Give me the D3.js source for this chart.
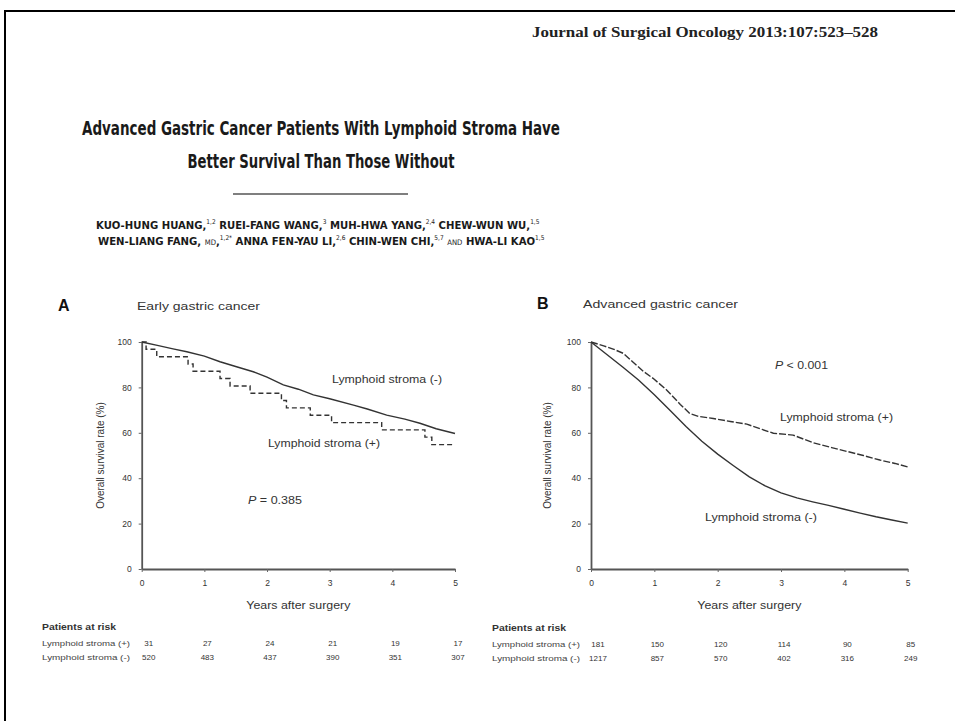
<!DOCTYPE html>
<html><head><meta charset="utf-8">
<script src="https://cdn.jsdelivr.net/npm/d3@7/dist/d3.min.js"></script>
<style>body{margin:0;background:#fff}svg{display:block}</style>
</head><body><svg id="c" width="955" height="721"></svg>
<script>
// ---------- data ----------
const years = [0, 1, 2, 3, 4, 5];
const yTicks = [0, 20, 40, 60, 80, 100];

// Panel A: early gastric cancer
const earlyNegT = [0, 0.25, 0.5, 0.72, 1.0, 1.25, 1.5, 1.78, 2.0, 2.26, 2.5, 2.74, 3.0, 3.38, 3.6, 3.91, 4.2, 4.44, 4.7, 5.0];
const earlyNegV = [100, 98.5, 97.0, 95.7, 93.8, 91.3, 89.2, 86.9, 84.5, 81.1, 79.2, 76.7, 75.0, 72.2, 70.5, 67.8, 66.0, 64.2, 61.8, 59.7];
const earlyPosT = [0, 0.07, 0.24, 0.74, 0.82, 1.25, 1.41, 1.73, 2.23, 2.31, 2.69, 3.03, 3.83, 4.52, 4.63, 5.0];
const earlyPosV = [100, 96.8, 93.5, 90.3, 87.1, 83.9, 80.6, 77.4, 74.2, 71.0, 67.7, 64.5, 61.3, 58.1, 54.8, 54.8];

// Panel B: advanced gastric cancer
const advPosT = [0, 0.2, 0.35, 0.51, 0.67, 0.83, 0.98, 1.19, 1.41, 1.56, 1.7, 1.93, 2.2, 2.46, 2.7, 2.88, 3.19, 3.51, 3.8, 4.04, 4.3, 4.56, 4.8, 5.0];
const advPosV = [100, 98.3, 96.9, 95.0, 91.0, 87.0, 84.0, 79.0, 72.5, 68.5, 67.2, 66.3, 65.0, 63.8, 61.5, 59.8, 59.0, 55.6, 53.5, 51.8, 50.0, 48.0, 46.5, 45.0];
const advNegT = [0, 0.25, 0.5, 0.75, 1.0, 1.25, 1.5, 1.75, 2.0, 2.25, 2.5, 2.75, 3.0, 3.25, 3.5, 3.75, 4.0, 4.25, 4.5, 4.75, 5.0];
const advNegV = [100, 94.5, 89.0, 83.3, 76.8, 69.8, 62.8, 56.3, 50.6, 45.5, 40.6, 36.6, 33.5, 31.3, 29.6, 28.0, 26.3, 24.6, 23.0, 21.6, 20.2];

// Patients at risk
const riskRowLabels = ["Lymphoid stroma (+)", "Lymphoid stroma (-)"];
const earlyRiskPos = [31, 27, 24, 21, 19, 17];
const earlyRiskNeg = [520, 483, 437, 390, 351, 307];
const advRiskPos = [181, 150, 120, 114, 90, 85];
const advRiskNeg = [1217, 857, 570, 402, 316, 249];

// ---------- drawing ----------
const svg = d3.select("#c");
svg.append("rect").attr("width", 955).attr("height", 721).attr("fill", "#fff");

// page frame
svg.append("path").attr("d", "M5,721 V11 H955").attr("fill", "none").attr("stroke", "#000").attr("stroke-width", 2);

const SERIF = "'Liberation Serif','Times New Roman',serif";
const SANS = "'Liberation Sans',Arial,Helvetica,sans-serif";
const NARROW = "'Liberation Sans Narrow','DejaVu Sans Condensed','Liberation Sans',sans-serif";

svg.append("text").attr("x", 532).attr("y", 37)
  .attr("font-family", SERIF).attr("font-weight", "bold").attr("font-size", 14)
  .attr("fill", "#222").attr("textLength", 346).attr("lengthAdjust", "spacingAndGlyphs")
  .text("Journal of Surgical Oncology 2013:107:523\u2013528");

// title
const titleLines = ["Advanced Gastric Cancer Patients With Lymphoid Stroma Have", "Better Survival Than Those Without"];
const titleWidths = [478, 267];
const titleBase = [135, 168];
titleLines.forEach((t, i) => {
  svg.append("text").attr("x", 321).attr("y", titleBase[i]).attr("text-anchor", "middle")
    .attr("font-family", NARROW).attr("font-weight", "bold").attr("font-size", 19).attr("fill", "#1a1a1a")
    .attr("textLength", titleWidths[i]).attr("lengthAdjust", "spacingAndGlyphs").text(t);
});
svg.append("line").attr("x1", 233).attr("x2", 408).attr("y1", 194).attr("y2", 194)
  .attr("stroke", "#555").attr("stroke-width", 1.5);

// authors (superscripts sized in em so the whole line scales with one font size)
const authorLines = [
  [["KUO-HUNG HUANG,", 0], ["1,2", 1], [" RUEI-FANG WANG,", 0], ["3", 1], [" MUH-HWA YANG,", 0], ["2,4", 1], [" CHEW-WUN WU,", 0], ["1,5", 1]],
  [["WEN-LIANG FANG, ", 0], ["MD", 2], [",", 0], ["1,2*", 1], [" ANNA FEN-YAU LI,", 0], ["2,6", 1], [" CHIN-WEN CHI,", 0], ["5,7", 1], [" ", 0], ["AND", 2], [" HWA-LI KAO", 0], ["1,5", 1]]
];
const authorX = [96, 98], authorW = [444, 447], authorBase = [229, 245];
authorLines.forEach((parts, i) => {
  const t = svg.append("text").attr("x", authorX[i]).attr("y", authorBase[i])
    .attr("font-family", NARROW).attr("font-weight", "bold").attr("font-size", 12).attr("fill", "#1a1a1a");
  parts.forEach(([s, k]) => {
    const ts = t.append("tspan").text(s);
    if (k === 1) ts.attr("font-size", "0.58em").attr("font-weight", "normal").attr("baseline-shift", "70%");
    if (k === 2) ts.attr("font-size", "0.68em").attr("font-weight", "normal");
  });
  const w = t.node().getComputedTextLength();
  if (w > 0) t.attr("font-size", 12 * authorW[i] / w);
});

function panel(cfg) {
  const x = d3.scaleLinear().domain([0, 5]).range([cfg.left, cfg.right]);
  const y = d3.scaleLinear().domain([0, 100]).range([cfg.bottom, cfg.top]);
  const g = svg.append("g");

  g.append("text").attr("x", cfg.letterX).attr("y", cfg.letterY).attr("font-family", SANS)
    .attr("font-weight", "bold").attr("font-size", 16).attr("fill", "#111").text(cfg.letter);
  g.append("text").attr("x", cfg.subX).attr("y", cfg.letterY - 1).attr("font-family", SANS)
    .attr("font-size", 10.5).attr("fill", "#333").attr("textLength", cfg.subW)
    .attr("lengthAdjust", "spacingAndGlyphs").text(cfg.subtitle);

  const ya = g.append("g").attr("transform", `translate(${cfg.left},0)`)
    .call(d3.axisLeft(y).tickValues(yTicks).tickFormat(d3.format("d")).tickSize(3).tickPadding(7).tickSizeOuter(0));
  const xa = g.append("g").attr("transform", `translate(0,${cfg.bottom})`)
    .call(d3.axisBottom(x).tickValues(years).tickFormat(d3.format("d")).tickSize(3).tickPadding(8).tickSizeOuter(0));
  [ya, xa].forEach(a => {
    a.select(".domain").attr("stroke", "#555").attr("stroke-width", 1.8);
    a.selectAll(".tick line").attr("stroke", "#666").attr("stroke-width", 1);
    a.selectAll(".tick text").attr("font-family", SANS).attr("font-size", 8.5).attr("fill", "#333");
  });

  g.append("text").attr("transform", `translate(${cfg.yTitleX},${(cfg.top + cfg.bottom) / 2}) rotate(-90)`)
    .attr("text-anchor", "middle").attr("font-family", SANS).attr("font-size", 10).attr("fill", "#333")
    .text("Overall survival rate (%)");
  g.append("text").attr("x", (cfg.left + cfg.right) / 2).attr("y", cfg.bottom + 40)
    .attr("text-anchor", "middle").attr("font-family", SANS).attr("font-size", 10).attr("fill", "#333")
    .attr("textLength", 104).attr("lengthAdjust", "spacingAndGlyphs")
    .text("Years after surgery");

  const line = d3.line().x(d => x(d[0])).y(d => y(d[1]));
  cfg.curves.forEach(c => {
    g.append("path").datum(d3.zip(c.t, c.v)).attr("d", line.curve(c.step ? d3.curveStepAfter : d3.curveLinear))
      .attr("fill", "none").attr("stroke", "#333").attr("stroke-width", 1.4)
      .attr("stroke-dasharray", c.dash || null);
  });

  cfg.labels.forEach(l => {
    const t = g.append("text").attr("x", l.x).attr("y", l.y).attr("font-family", SANS)
      .attr("font-size", 10.5).attr("fill", "#333").attr("textLength", l.w).attr("lengthAdjust", "spacingAndGlyphs");
    if (l.p) {
      t.append("tspan").attr("font-style", "italic").text("P");
      t.append("tspan").text(l.text);
    } else t.text(l.text);
  });

  g.append("text").attr("x", cfg.riskX).attr("y", cfg.riskY).attr("font-family", SANS)
    .attr("font-weight", "bold").attr("font-size", 8.5).attr("fill", "#333")
    .attr("textLength", 74).attr("lengthAdjust", "spacingAndGlyphs").text("Patients at risk");
  cfg.risk.forEach((row, r) => {
    const yy = cfg.riskY + 16 + r * 14;
    g.append("text").attr("x", cfg.riskX).attr("y", yy).attr("font-family", SANS)
      .attr("font-size", 7).attr("fill", "#444").attr("textLength", 88)
      .attr("lengthAdjust", "spacingAndGlyphs").text(riskRowLabels[r]);
    g.selectAll(null).data(row).enter().append("text")
      .attr("x", (d, i) => x(years[i]) + (i === 0 ? 7 : 3)).attr("y", yy)
      .attr("text-anchor", "middle").attr("font-family", SANS).attr("font-size", 8).attr("fill", "#333")
      .text(d => d);
  });
}

panel({
  letter: "A", letterX: 58, letterY: 311, subtitle: "Early gastric cancer", subX: 137, subW: 123,
  left: 141.7, right: 455, top: 342, bottom: 569, yTitleX: 104,
  curves: [
    { t: earlyNegT, v: earlyNegV },
    { t: earlyPosT, v: earlyPosV, step: true, dash: "5,3" }
  ],
  labels: [
    { x: 332, y: 383, w: 110, text: "Lymphoid stroma (-)" },
    { x: 268, y: 447, w: 112, text: "Lymphoid stroma (+)" },
    { x: 248, y: 504, w: 54, text: " = 0.385", p: true }
  ],
  riskX: 42, riskY: 630, risk: [earlyRiskPos, earlyRiskNeg]
});

panel({
  letter: "B", letterX: 537, letterY: 309, subtitle: "Advanced gastric cancer", subX: 583, subW: 155,
  left: 591, right: 907.7, top: 342, bottom: 569, yTitleX: 551,
  curves: [
    { t: advPosT, v: advPosV, dash: "7,2" },
    { t: advNegT, v: advNegV }
  ],
  labels: [
    { x: 775, y: 369, w: 53, text: " < 0.001", p: true },
    { x: 780, y: 421, w: 113, text: "Lymphoid stroma (+)" },
    { x: 705, y: 521, w: 112, text: "Lymphoid stroma (-)" }
  ],
  riskX: 492, riskY: 631, risk: [advRiskPos, advRiskNeg]
});
</script></body></html>
